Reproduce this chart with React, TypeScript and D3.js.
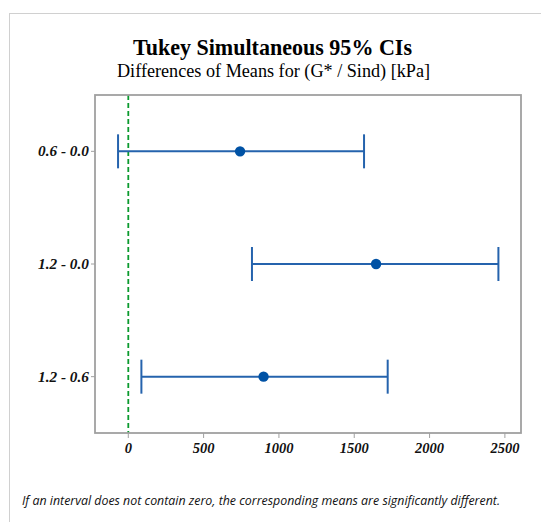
import React from "react";
import * as d3 from "d3";

const categories = ["0.6 - 0.0", "1.2 - 0.0", "1.2 - 0.6"];
const lowerValues = [-68, 821, 87];
const meanValues = [742, 1645, 898];
const upperValues = [1565, 2457, 1722];
const xTicks = [0, 500, 1000, 1500, 2000, 2500];

const W = 541;
const H = 522;
const plot = { left: 95, right: 521, top: 95, bottom: 433 };

export default function App() {
  const x = d3.scaleLinear().domain([-221, 2607]).range([plot.left, plot.right]);
  const y = d3
    .scalePoint<string>()
    .domain(categories)
    .range([plot.top, plot.bottom])
    .padding(0.5);

  const blue = "#2563ad";
  const gray = "#a0a0a0";
  const labelFont = "'Liberation Serif', 'Times New Roman', serif";

  return (
    <svg
      width={W}
      height={H}
      style={{ position: "absolute", left: 0, top: 0, background: "#fff" }}
    >
      {/* outer frame */}
      <line x1={9} y1={13.5} x2={W} y2={13.5} stroke="#d0d0d0" strokeWidth={1} />
      <line x1={9.5} y1={13} x2={9.5} y2={H} stroke="#d0d0d0" strokeWidth={1} />

      <text
        x={272.5}
        y={55}
        textAnchor="middle"
        fontFamily={labelFont}
        fontWeight="bold"
        fontSize={22.5}
        textLength={279}
        lengthAdjust="spacingAndGlyphs"
        fill="#000"
      >
        Tukey Simultaneous 95% CIs
      </text>
      <text
        x={273.5}
        y={76.5}
        textAnchor="middle"
        fontFamily={labelFont}
        fontSize={18}
        textLength={313}
        lengthAdjust="spacingAndGlyphs"
        fill="#000"
      >
        Differences of Means for (G* / Sind) [kPa]
      </text>

      {/* zero reference line */}
      <line
        x1={x(0)}
        x2={x(0)}
        y1={plot.top}
        y2={plot.bottom}
        stroke="#0a9a2e"
        strokeWidth={1.8}
        strokeDasharray="5,3"
      />

      {/* intervals */}
      {categories.map((c, i) => {
        const yy = y(c)!;
        return (
          <g key={c}>
            <line x1={x(lowerValues[i])} x2={x(upperValues[i])} y1={yy} y2={yy} stroke={blue} strokeWidth={2} />
            <line x1={x(lowerValues[i])} x2={x(lowerValues[i])} y1={yy - 17} y2={yy + 17} stroke={blue} strokeWidth={2} />
            <line x1={x(upperValues[i])} x2={x(upperValues[i])} y1={yy - 17} y2={yy + 17} stroke={blue} strokeWidth={2} />
            <circle cx={x(meanValues[i])} cy={yy} r={5.2} fill="#0052a5" />
          </g>
        );
      })}

      {/* plot border */}
      <rect
        x={plot.left}
        y={plot.top}
        width={plot.right - plot.left}
        height={plot.bottom - plot.top}
        fill="none"
        stroke={gray}
        strokeWidth={1.8}
      />

      {/* y ticks */}
      {categories.map((c) => (
        <g key={"yt" + c}>
          <line x1={plot.left - 4} x2={plot.left} y1={y(c)!} y2={y(c)!} stroke={gray} strokeWidth={1} />
          <text
            x={plot.left - 6}
            y={y(c)! + 5}
            textAnchor="end"
            fontFamily={labelFont}
            fontWeight="bold"
            fontStyle="italic"
            fontSize={14}
            textLength={51}
            lengthAdjust="spacingAndGlyphs"
            fill="#111"
          >
            {c}
          </text>
        </g>
      ))}

      {/* x ticks */}
      {xTicks.map((t) => (
        <g key={"xt" + t}>
          <line x1={x(t)} x2={x(t)} y1={plot.bottom} y2={plot.bottom + 5} stroke={gray} strokeWidth={1} />
          <text
            x={x(t)}
            y={plot.bottom + 20}
            textAnchor="middle"
            fontFamily={labelFont}
            fontWeight="bold"
            fontStyle="italic"
            fontSize={14.5}
            fill="#111"
          >
            {t}
          </text>
        </g>
      ))}

      <text
        x={22}
        y={505}
        fontFamily="'Open Sans', 'Noto Sans', sans-serif"
        fontStyle="italic"
        fontSize={12}
        textLength={478}
        lengthAdjust="spacingAndGlyphs"
        fill="#111"
      >
        If an interval does not contain zero, the corresponding means are significantly different.
      </text>
    </svg>
  );
}
